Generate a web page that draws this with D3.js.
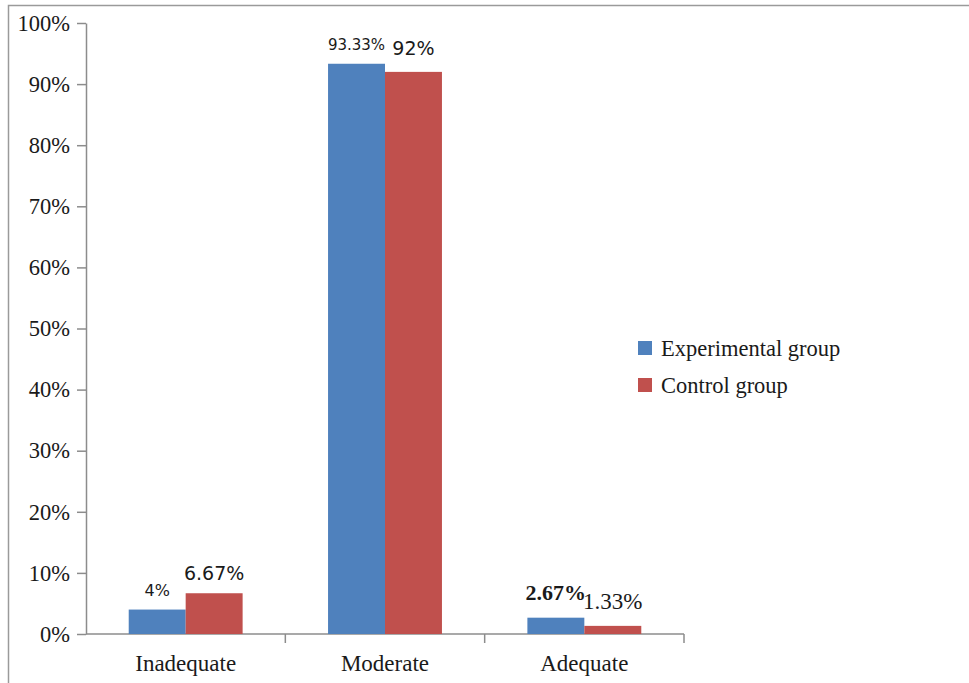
<!DOCTYPE html>
<html>
<head>
<meta charset="utf-8">
<script src="https://cdn.jsdelivr.net/npm/d3@7"></script>
<style>
  html, body { margin: 0; padding: 0; background: #fff; }
  svg { display: block; }
</style>
</head>
<body>
<script>
// Knowledge level by group (percent of participants)
const categories = ["Inadequate", "Moderate", "Adequate"];
const seriesNames = ["Experimental group", "Control group"];
const experimental = [4, 93.33, 2.67];
const control = [6.67, 92, 1.33];
const experimentalLabels = ["4%", "93.33%", "2.67%"];
const controlLabels = ["6.67%", "92%", "1.33%"];
const yTicks = [0, 10, 20, 30, 40, 50, 60, 70, 80, 90, 100];

const colors = ["#4F81BD", "#C0504D"];
const serif = "'Liberation Serif', 'Times New Roman', serif";
const sans = "'DejaVu Sans', Verdana, sans-serif";

// per-label text styling: [series][category]
const labelStyle = [
  [ {font: sans, size: 16, weight: "normal", dy: 14},
    {font: sans, size: 15, weight: "normal", dy: 14},
    {font: serif, size: 22, weight: "bold", dy: 18} ],
  [ {font: sans, size: 19, weight: "normal", dy: 13},
    {font: sans, size: 19, weight: "normal", dy: 17},
    {font: serif, size: 23, weight: "normal", dy: 17} ]
];

const W = 969, H = 683;
const plot = {left: 86, right: 684, top: 23, bottom: 634};
const textSize = 22.5;

const svg = d3.select("body").append("svg")
  .attr("width", W).attr("height", H);

// outer frame
svg.append("rect")
  .attr("x", 8.5).attr("y", 5.5)
  .attr("width", 1200).attr("height", 1200)
  .attr("fill", "none").attr("stroke", "#9a9a9a").attr("stroke-width", 1.5);

const x0 = d3.scaleBand().domain(categories)
  .range([plot.left, plot.right]).paddingInner(0).paddingOuter(0);
const x1 = d3.scaleBand().domain(seriesNames)
  .range([0, x0.bandwidth()]).paddingInner(0).paddingOuter(0.75);
const y = d3.scaleLinear().domain([0, 100]).range([plot.bottom, plot.top]);

// y axis
const yAxis = d3.axisLeft(y).tickValues(yTicks).tickFormat(d => d + "%")
  .tickSize(9).tickSizeOuter(0).tickPadding(7);
const gy = svg.append("g").attr("transform", `translate(${plot.left},0)`).call(yAxis);
gy.select(".domain").attr("stroke", "#8c8c8c").attr("stroke-width", 1.5);
gy.selectAll(".tick line").attr("stroke", "#8c8c8c").attr("stroke-width", 1.5);
gy.selectAll(".tick text").attr("font-family", serif).attr("font-size", textSize)
  .attr("fill", "#1a1a1a");

// x axis: ticks at category boundaries
const xAxisG = svg.append("g").attr("transform", `translate(0,${plot.bottom})`);
xAxisG.append("line")
  .attr("x1", plot.left).attr("x2", plot.right)
  .attr("stroke", "#8c8c8c").attr("stroke-width", 1.5);
const boundaries = categories.map(c => x0(c)).concat([x0(categories[categories.length - 1]) + x0.bandwidth()]);
xAxisG.selectAll("line.tk").data(boundaries.slice(1)).join("line")
  .attr("class", "tk")
  .attr("x1", d => d).attr("x2", d => d).attr("y1", 0).attr("y2", 9)
  .attr("stroke", "#8c8c8c").attr("stroke-width", 1.5);
xAxisG.selectAll("text").data(categories).join("text")
  .attr("x", d => x0(d) + x0.bandwidth() / 2)
  .attr("y", 37)
  .attr("text-anchor", "middle")
  .attr("font-family", serif).attr("font-size", 23).attr("fill", "#1a1a1a")
  .text(d => d);

// bars
const seriesValues = [experimental, control];
const seriesLabels = [experimentalLabels, controlLabels];
seriesNames.forEach((s, si) => {
  const g = svg.append("g");
  g.selectAll("rect").data(categories).join("rect")
    .attr("x", c => x0(c) + x1(s))
    .attr("width", x1.bandwidth())
    .attr("y", (c, i) => y(seriesValues[si][i]))
    .attr("height", (c, i) => y(0) - y(seriesValues[si][i]))
    .attr("fill", colors[si]);
  g.selectAll("text").data(categories).join("text")
    .attr("x", c => x0(c) + x1(s) + x1.bandwidth() / 2)
    .attr("y", (c, i) => y(seriesValues[si][i]) - labelStyle[si][i].dy)
    .attr("text-anchor", "middle")
    .attr("font-family", (c, i) => labelStyle[si][i].font)
    .attr("font-size", (c, i) => labelStyle[si][i].size)
    .attr("font-weight", (c, i) => labelStyle[si][i].weight)
    .attr("fill", "#1a1a1a")
    .text((c, i) => seriesLabels[si][i]);
});

// legend
const legend = svg.append("g").attr("transform", "translate(638,341)");
seriesNames.forEach((s, i) => {
  const row = legend.append("g").attr("transform", `translate(0,${i * 37})`);
  row.append("rect").attr("width", 14).attr("height", 14).attr("fill", colors[i]);
  row.append("text").attr("x", 23).attr("y", 15)
    .attr("font-family", serif).attr("font-size", textSize).attr("fill", "#1a1a1a")
    .text(s);
});
</script>
</body>
</html>
